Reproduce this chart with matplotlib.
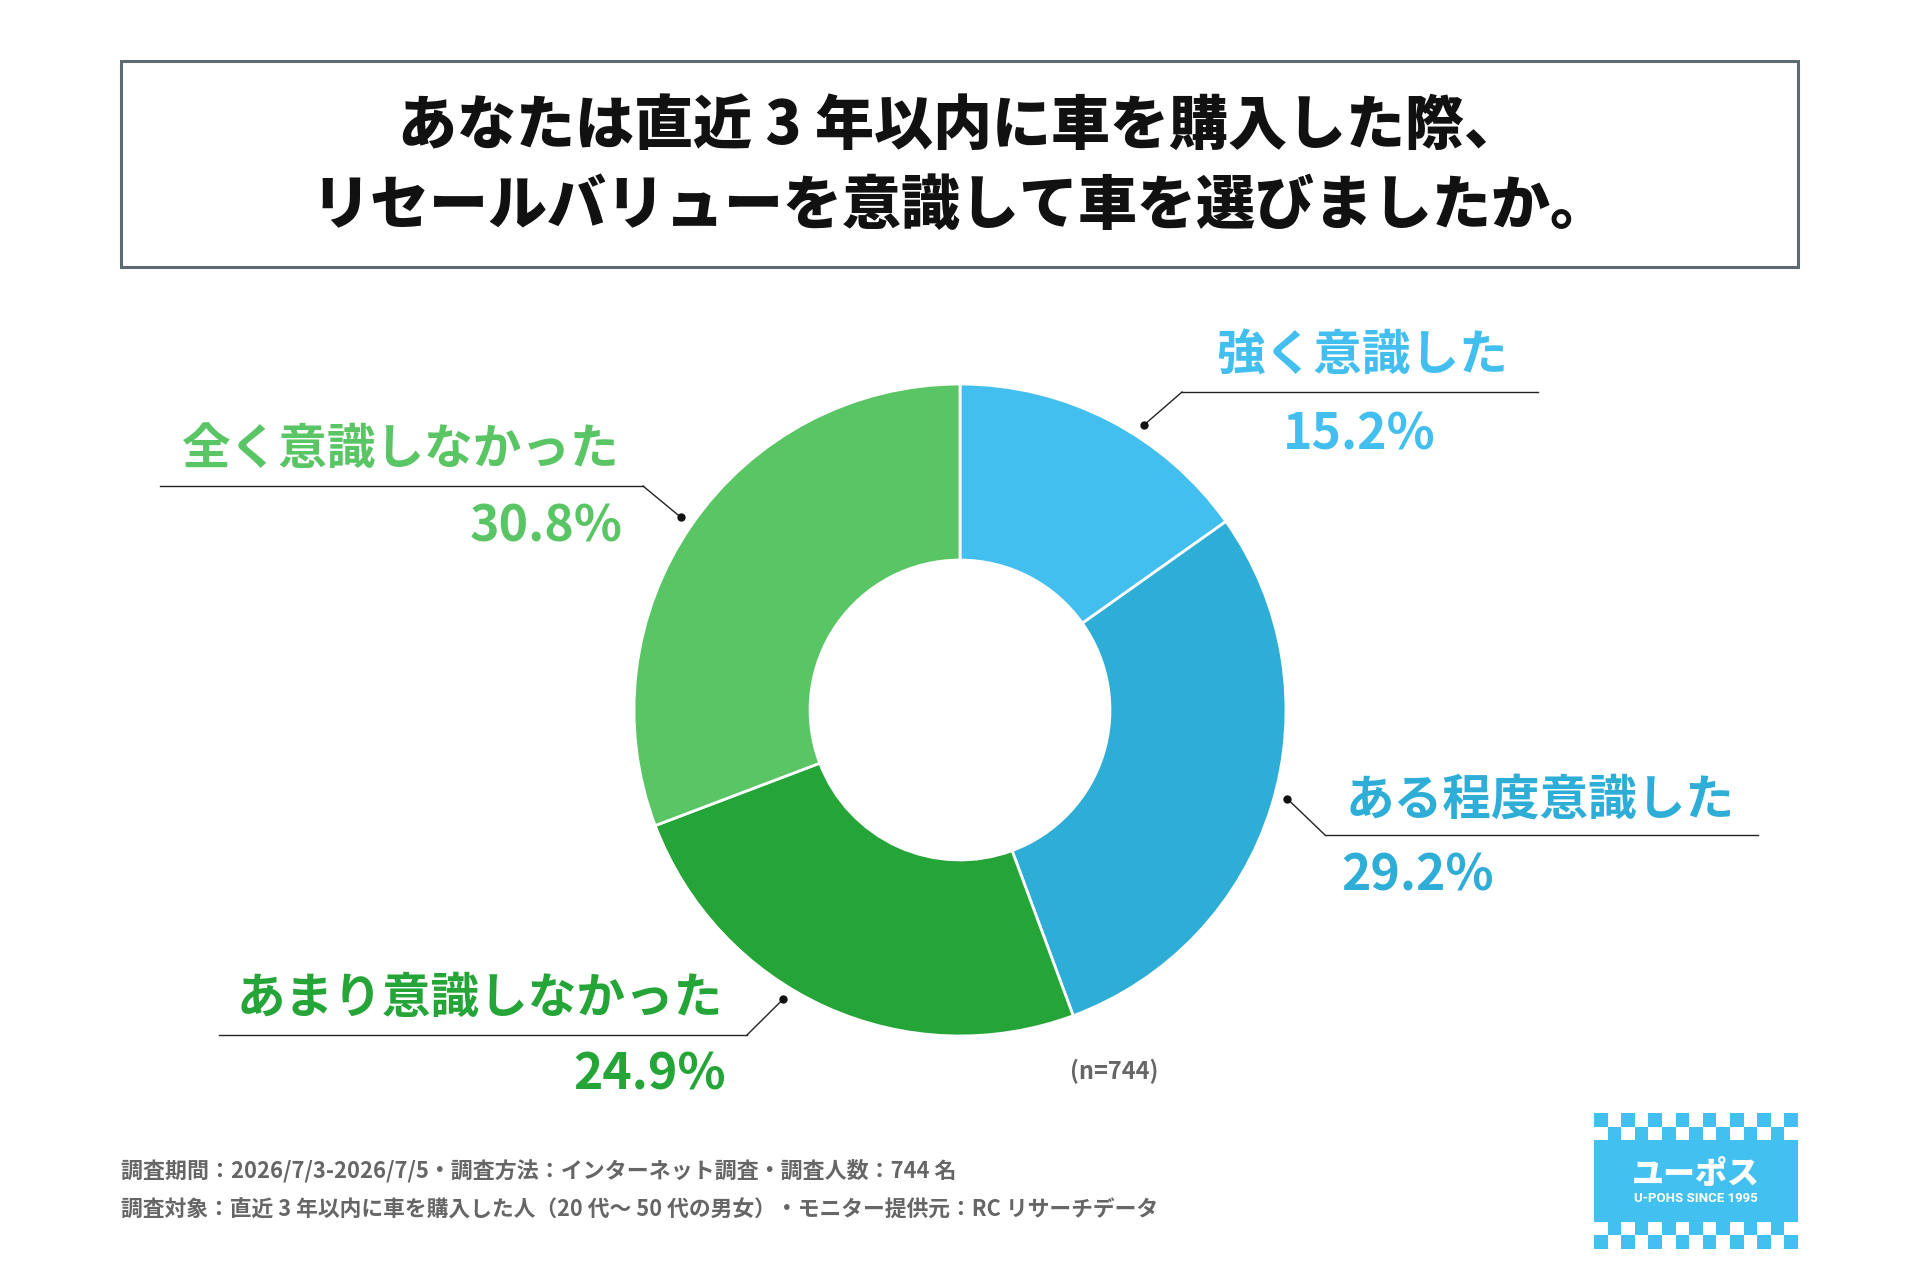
import numpy as np
import matplotlib
matplotlib.use("Agg")
from matplotlib import pyplot as plt
from matplotlib.patches import Rectangle

plt.rcParams['font.family'] = ['Noto Sans CJK JP', 'DejaVu Sans']

W, H = 1920, 1280

title_lines = ["あなたは直近 3 年以内に車を購入した際、",
               "リセールバリューを意識して車を選びましたか。"]
categories = ["強く意識した", "ある程度意識した", "あまり意識しなかった", "全く意識しなかった"]
shares = [15.2, 29.2, 24.9, 30.8]
colors = ["#42bfee", "#2eaed6", "#25a538", "#5ac564"]
sample_note = "(n=744)"
footer_lines = ["調査期間：2026/7/3-2026/7/5・調査方法：インターネット調査・調査人数：744 名",
                "調査対象：直近 3 年以内に車を購入した人（20 代～ 50 代の男女）・モニター提供元：RC リサーチデータ"]

# label layout in image pixels (y from top)
# (text x, text y, percent x, percent y, underline x0, x1, underline y, leader end x, dot angle nudge)
label_pos = [
    (1362, 355, 1359, 435, 1182, 1538, 392, 1182, 5.5),
    (1540, 800, 1418, 876, 1325, 1758, 835, 1325, -2),
    (480, 998, 650, 1075, 219, 747, 1035, 747, 7),
    (400, 449, 546, 527, 160, 643, 486, 643, 0),
]

cx, cy, R = 960, 710, 326


def fy(y):
    return H - y


fig = plt.figure(figsize=(W / 100, H / 100), dpi=100)
ax = fig.add_axes([0, 0, 1, 1])

# title box
ax.add_patch(Rectangle((121, fy(267)), 1677, 206, fill=False,
                       edgecolor="#5d6a71", linewidth=2.2))
ax.text(960, fy(126), title_lines[0], ha="center", va="center",
        fontsize=42.5, fontweight="heavy", color="#111111")
ax.text(960, fy(206), title_lines[1], ha="center", va="center",
        fontsize=42.5, fontweight="heavy", color="#111111")

# donut
wedges, _ = ax.pie(shares, colors=colors, startangle=90, counterclock=False,
                   radius=R, center=(cx, fy(cy)),
                   wedgeprops=dict(width=R * 0.54, edgecolor="white", linewidth=2))

total = sum(shares)
start = 0.0
for i, (cat, val) in enumerate(zip(categories, shares)):
    tx, ty, ppx, ppy, ux0, ux1, uy, lx, nudge = label_pos[i]
    mid = (start + val / 2) / total * 2 * np.pi + np.radians(nudge)
    start += val
    dx = np.sin(mid) * R * 1.04
    dy = np.cos(mid) * R * 1.04
    px, py = cx + dx, fy(cy) + dy
    ax.plot([px, lx], [py, fy(uy)], color="#222222", lw=1)
    ax.plot([ux0, ux1], [fy(uy), fy(uy)], color="#222222", lw=1)
    ax.plot(px, py, "o", color="#111111", ms=5)
    ax.text(tx, fy(ty), cat, ha="center", va="center", fontsize=35,
            fontweight="bold", color=colors[i])
    ax.text(ppx, fy(ppy), f"{val:.1f}%", ha="center", va="center", fontsize=36,
            fontweight="bold", color=colors[i])

ax.text(1114, fy(1071), sample_note, ha="center", va="center", fontsize=17,
        fontweight="bold", color="#666666")

ax.text(121, fy(1171), footer_lines[0], ha="left", va="center", fontsize=15.8,
        fontweight="bold", color="#666666")
ax.text(121, fy(1210), footer_lines[1], ha="left", va="center", fontsize=15.7,
        fontweight="bold", color="#666666")

# logo
logo_blue = "#42c1f0"
lx0, ly0, lx1, ly1 = 1594, 1113, 1798, 1249
cell = (lx1 - lx0) / 15
ax.add_patch(Rectangle((lx0, fy(ly1 - 2 * cell)), lx1 - lx0, (ly1 - ly0) - 4 * cell,
                       color=logo_blue, lw=0))
for row in range(4):
    if row < 2:
        top = ly0 + row * cell
    else:
        top = ly1 - (4 - row) * cell
    offset = 0 if row in (0, 3) else 1
    for col in range(offset, 15, 2):
        ax.add_patch(Rectangle((lx0 + col * cell, fy(top + cell)), cell, cell,
                               color=logo_blue, lw=0))
ax.text((lx0 + lx1) / 2, fy(1174), "ユーポス", ha="center", va="center",
        fontsize=23, fontweight="heavy", color="white")
ax.text((lx0 + lx1) / 2, fy(1198), "U-POHS SINCE 1995", ha="center", va="center",
        fontsize=9.5, fontweight="bold", color="white", family="Roboto")

ax.set_xlim(0, W)
ax.set_ylim(0, H)
ax.set_aspect("auto")
ax.axis("off")

fig.savefig("out.png", dpi=100, facecolor="white")
